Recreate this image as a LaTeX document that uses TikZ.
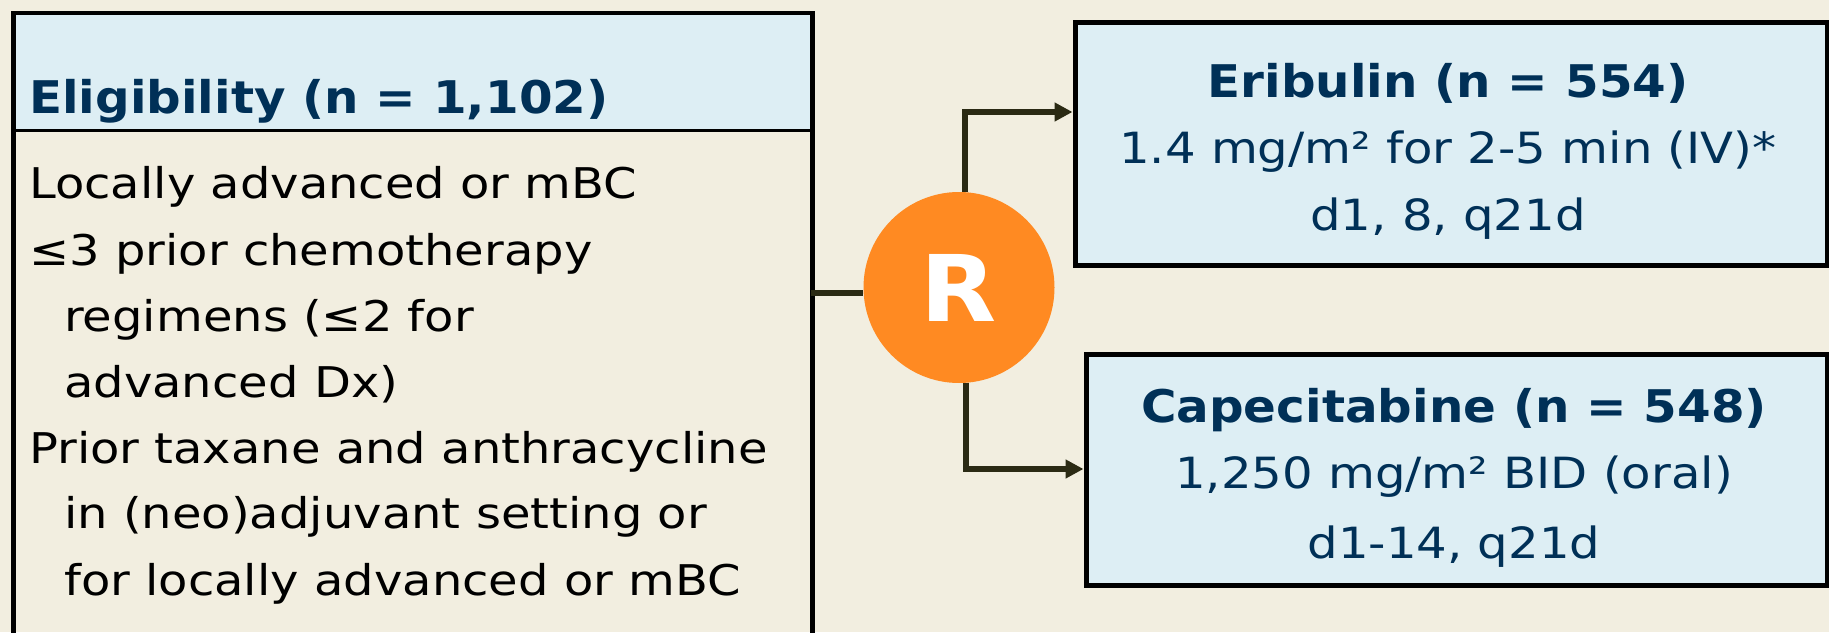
\documentclass[tikz,border=0pt]{standalone}
\usepackage{fontspec}
\setmainfont{DejaVu Sans}[FakeStretch=1.12]
\newfontfamily\bodyf{DejaVu Sans}[FakeStretch=1.135]
\newfontfamily\boldf{DejaVu Sans Bold}[FakeStretch=1.075]
\usetikzlibrary{arrows.meta}
\definecolor{bg}{HTML}{F2EEE0}
\definecolor{lblue}{HTML}{DDEEF4}
\definecolor{navy}{HTML}{003057}
\definecolor{orng}{HTML}{FF8A22}
\definecolor{olive}{HTML}{2B2A14}
\tikzset{
 box/.style={draw=black, line width=5pt, fill=lblue, rectangle, anchor=north west, inner sep=0pt},
 ttl/.style={font=\fontsize{45}{54}\boldf, text=navy, anchor=base, inner sep=0pt},
 sub/.style={font=\fontsize{43}{52}\selectfont, text=navy, anchor=base, inner sep=0pt},
 body/.style={font=\fontsize{42.3}{50}\bodyf, text=black, anchor=base west, inner sep=0pt},
 conn/.style={draw=olive, line width=6.5pt},
 arr/.style={conn, -{Triangle[length=18pt,width=18pt]}},
}
\begin{document}
\begin{tikzpicture}[x=1pt,y=-1pt]
\useasboundingbox (0,0) rectangle (1829,632);
\clip (0,0) rectangle (1829,632);
\fill[bg] (0,0) rectangle (1829,632);
% left eligibility box
\node[box, draw=none, outer sep=0pt, fill=lblue, minimum width=799pt, minimum height=120pt] (ehead) at (11,10.5) {};
\node[box, fill=none, line width=4.5pt, minimum width=799pt, minimum height=700pt] (elig) at (11,10.5) {};
\draw[line width=3pt] (ehead.south west) -- (ehead.south east);
\node[ttl, anchor=base west] (eltitle) at (29,113) {Eligibility (n = 1,102)};
\node[body] (l1) at (29,198) {Locally advanced or mBC};
\node[body] (l2) at (29,265) {≤3 prior chemotherapy};
\node[body] (l3) at (64,331) {regimens (≤2 for};
\node[body] (l4) at (64,397) {advanced Dx)};
\node[body] (l5) at (29,463) {Prior taxane and anthracycline};
\node[body] (l6) at (64,528) {in (neo)adjuvant setting or};
\node[body] (l7) at (64,595) {for locally advanced or mBC};
% Eribulin box
\node[box, minimum width=752pt, minimum height=243pt] (E) at (1072.5,19.5) {};
\node[ttl] (et) at (1448,97) {Eribulin (n = 554)};
\node[sub] (e1) at (1448,163) {1.4 mg/m² for 2-5 min (IV)*};
\node[sub] (e2) at (1448,230) {d1, 8, q21d};
% Capecitabine box
\node[box, minimum width=741pt, minimum height=231pt] (C) at (1083.5,351.5) {};
\node[ttl] (ct) at (1454,422) {Capecitabine (n = 548)};
\node[sub] (c1) at (1454,488) {1,250 mg/m² BID (oral)};
\node[sub] (c2) at (1454,558) {d1-14, q21d};
% randomisation circle
\node[circle, fill=orng, minimum size=191pt, inner sep=0pt, text=white,
      font=\fontsize{92}{100}\boldf] (R) at (959,287.5) {R};
% connectors
\coordinate (lj) at (811,293);
\draw[conn] (lj) -- (lj -| R.west);
\draw[arr] ([xshift=6pt]R.north) |- (E.west |- 0,112);
\draw[arr] ([xshift=7pt]R.south) |- (C.west |- 0,469);
\end{tikzpicture}
\end{document}
